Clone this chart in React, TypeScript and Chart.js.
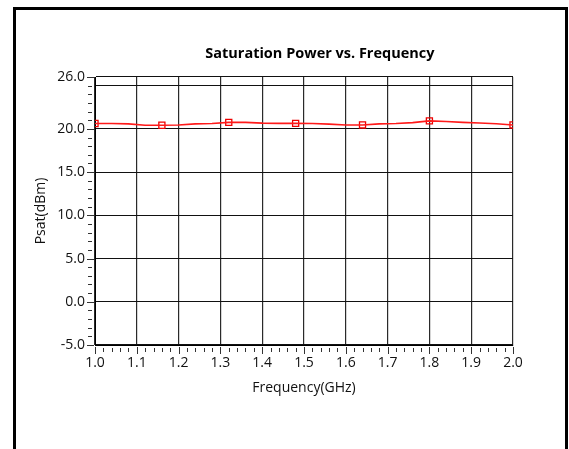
import { useEffect, useRef } from "react";
import { Chart, registerables } from "chart.js";

Chart.register(...registerables);

const chartTitle = "Saturation Power vs. Frequency";
const xAxisTitle = "Frequency(GHz)";
const yAxisTitle = "Psat(dBm)";

const freqGHz = [
  1.0, 1.04, 1.08, 1.12, 1.16, 1.2, 1.24, 1.28, 1.32, 1.36, 1.4, 1.44, 1.48,
  1.52, 1.56, 1.6, 1.64, 1.68, 1.72, 1.76, 1.8, 1.84, 1.88, 1.92, 1.96, 2.0,
];
const psatDbm = [
  20.62, 20.62, 20.58, 20.42, 20.42, 20.45, 20.58, 20.62, 20.75, 20.75, 20.66,
  20.64, 20.63, 20.62, 20.55, 20.45, 20.45, 20.58, 20.62, 20.72, 20.92, 20.85,
  20.75, 20.68, 20.6, 20.45,
];
const markerFreqGHz = [1.0, 1.16, 1.32, 1.48, 1.64, 1.8, 2.0];

const xMin = 1.0;
const xMax = 2.0;
const xTickValues = [1.0, 1.1, 1.2, 1.3, 1.4, 1.5, 1.6, 1.7, 1.8, 1.9, 2.0];
const xMinorStep = 0.02;

const yMin = -5;
const yMax = 26;
const yTickValues = [-5, 0, 5, 10, 15, 20, 25, 26];
const yLabelValues = [-5, 0, 5, 10, 15, 20, 26];
const yMinorStep = 1;

const FONT = '"Open Sans", "Noto Sans", sans-serif';

export default function App() {
  const canvasRef = useRef<HTMLCanvasElement | null>(null);

  useEffect(() => {
    const canvas = canvasRef.current;
    if (!canvas) return;

    const lineData = freqGHz.map((f, i) => ({ x: f, y: psatDbm[i] }));
    const markerData = markerFreqGHz.map((f) => {
      const idx = freqGHz.findIndex((v) => Math.abs(v - f) < 1e-9);
      return { x: f, y: psatDbm[idx] };
    });

    const decorations = {
      id: "decorations",
      afterDraw(chart: any) {
        const { ctx, chartArea, scales } = chart;
        const xs = scales.x;
        const ys = scales.y;
        ctx.save();
        ctx.strokeStyle = "#333";
        ctx.lineWidth = 1;
        // y ticks
        const yCount = Math.round((yMax - yMin) / yMinorStep);
        for (let i = 0; i <= yCount; i++) {
          const v = yMin + i * yMinorStep;
          const major = yLabelValues.some((l) => Math.abs(l - v) < 1e-9);
          const py = Math.round(ys.getPixelForValue(v)) + 0.5;
          ctx.beginPath();
          ctx.moveTo(chartArea.left - (major ? 8 : 7), py);
          ctx.lineTo(chartArea.left - (major ? 1 : 3), py);
          ctx.stroke();
        }
        // x ticks
        const xCount = Math.round((xMax - xMin) / xMinorStep);
        for (let i = 0; i <= xCount; i++) {
          const v = xMin + i * xMinorStep;
          const major = xTickValues.some((t) => Math.abs(t - v) < 1e-9);
          const px = Math.round(xs.getPixelForValue(v)) + 0.5;
          ctx.beginPath();
          ctx.moveTo(px, chartArea.bottom + (major ? 2 : 3));
          ctx.lineTo(px, chartArea.bottom + (major ? 9 : 7));
          ctx.stroke();
        }
        // title
        ctx.fillStyle = "#000";
        ctx.font = `bold 14.5px ${FONT}`;
        ctx.textAlign = "center";
        ctx.textBaseline = "middle";
        ctx.fillText(
          chartTitle,
          chartArea.left + chartArea.width * 0.538,
          chartArea.top - 23
        );
        ctx.restore();
      },
    };

    const chart = new Chart(canvas, {
      type: "line",
      data: {
        datasets: [
          {
            label: "Psat",
            data: lineData,
            borderColor: "#ff1a1a",
            borderWidth: 1.6,
            pointRadius: 0,
            tension: 0,
          },
          {
            label: "Markers",
            data: markerData,
            showLine: false,
            pointStyle: "rect",
            pointRadius: 4.3,
            pointBorderColor: "#ee0000",
            pointBorderWidth: 1.3,
            pointBackgroundColor: "rgba(255,255,255,0)",
          },
        ],
      },
      plugins: [decorations],
      options: {
        responsive: false,
        animation: false,
        events: [],
        layout: { padding: { top: 77, right: 56, left: 0, bottom: 0 } },
        plugins: {
          legend: { display: false },
          tooltip: { enabled: false },
          title: { display: false },
        },
        scales: {
          x: {
            type: "linear",
            min: xMin,
            max: xMax,
            afterBuildTicks: (scale: any) => {
              scale.ticks = xTickValues.map((v) => ({ value: v }));
            },
            afterFit: (scale: any) => {
              scale.height = 104;
            },
            grid: { color: "#2a2a2a", lineWidth: 1.2, drawTicks: false },
            border: { display: true, color: "#000", width: 1 },
            ticks: {
              autoSkip: false,
              maxRotation: 0,
              padding: 10,
              color: "#111",
              font: { family: FONT, size: 14 },
              callback: (v: any) => Number(v).toFixed(1),
            },
            title: {
              display: true,
              text: xAxisTitle,
              color: "#111",
              font: { family: FONT, size: 14 },
              padding: { top: 0, bottom: 53 },
            },
          },
          y: {
            type: "linear",
            min: yMin,
            max: yMax,
            afterBuildTicks: (scale: any) => {
              scale.ticks = yTickValues.map((v) => ({ value: v }));
            },
            afterFit: (scale: any) => {
              scale.width = 95;
            },
            grid: { color: "#111", lineWidth: 1.1, drawTicks: false },
            border: { display: true, color: "#000", width: 1 },
            ticks: {
              autoSkip: false,
              padding: 10,
              color: "#111",
              font: { family: FONT, size: 14 },
              callback: (v: any) =>
                yLabelValues.some((l) => Math.abs(l - Number(v)) < 1e-9)
                  ? Number(v).toFixed(1)
                  : "",
            },
            title: {
              display: true,
              text: yAxisTitle,
              color: "#111",
              font: { family: FONT, size: 14 },
              padding: { top: 33, bottom: 0 },
            },
          },
        },
      },
    });

    return () => chart.destroy();
  }, []);

  return (
    <div
      style={{
        position: "absolute",
        left: 0,
        top: 0,
        width: 569,
        height: 449,
        overflow: "hidden",
        background: "#fff",
      }}
    >
      <canvas
        ref={canvasRef}
        width={569}
        height={449}
        style={{ position: "absolute", left: 0, top: 0, width: 569, height: 449 }}
      />
      <div
        style={{
          position: "absolute",
          left: 13,
          top: 7,
          width: 555,
          height: 470,
          boxSizing: "border-box",
          border: "3px solid #000",
          pointerEvents: "none",
        }}
      />
    </div>
  );
}
